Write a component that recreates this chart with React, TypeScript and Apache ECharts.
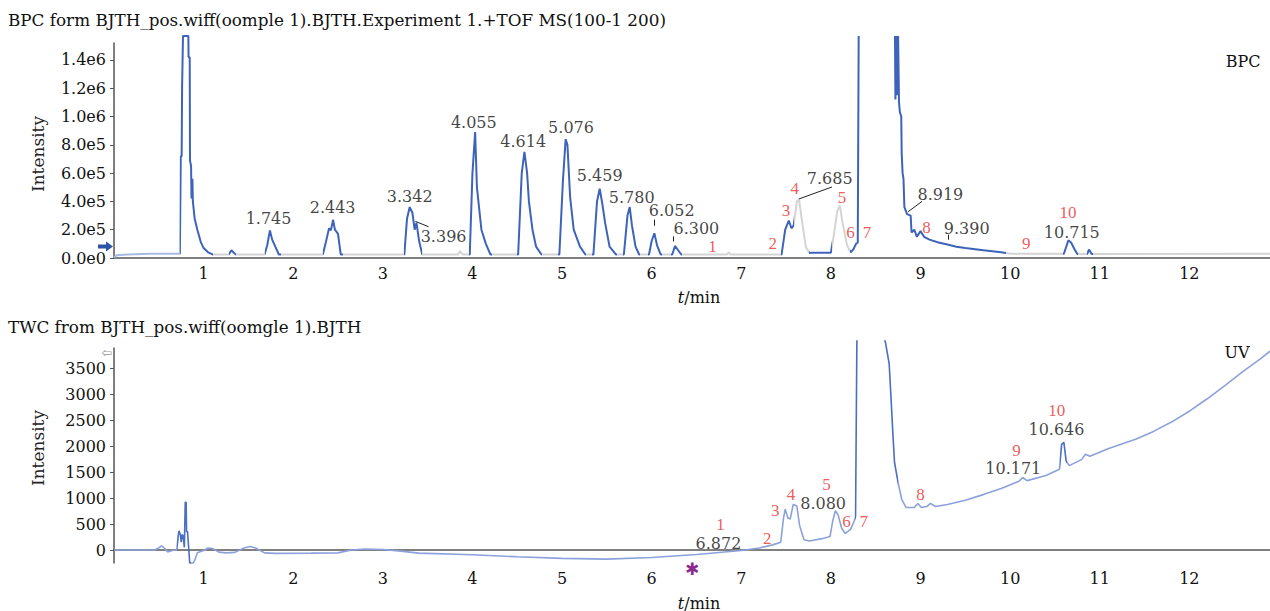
import React, { useEffect, useRef } from "react";
import * as echarts from "echarts";

// ---------- data ----------
const OFF_BPC = 1570000; // trace leaves the plot at the top
const OFF_UV = 4050;

const bpcTrace: [number, number | null][] = [
  [0, 3000], [0.03, 20000], [0.15, 25000], [0.4, 30000], [0.6, 30000], [0.735, 30000],
  [0.745, 720000], [0.755, 720000], [0.76, 1210000], [0.765, 1210000], [0.77, OFF_BPC], [0.83, OFF_BPC],
  [0.832, 1420000], [0.845, 1420000], [0.848, 690000], [0.86, 650000], [0.865, 420000], [0.875, 560000],
  [0.88, 400000], [0.9, 280000], [0.93, 200000], [0.97, 110000], [1.0, 70000], [1.05, 40000], [1.1, 25000],
  [1.28, 25000], [1.31, 55000], [1.34, 35000], [1.36, 25000],
  [1.68, 25000], [1.71, 90000], [1.74, 195000], [1.765, 130000], [1.8, 80000], [1.84, 25000],
  [2.33, 25000], [2.36, 100000], [2.4, 210000], [2.42, 195000], [2.445, 270000], [2.465, 200000], [2.5, 170000], [2.53, 25000],
  [3.24, 25000], [3.27, 280000], [3.3, 360000], [3.33, 320000], [3.355, 200000], [3.375, 250000], [3.405, 120000], [3.44, 25000],
  [3.84, 25000], [3.86, 50000], [3.89, 25000],
  [3.97, 25000], [4.0, 600000], [4.03, 890000], [4.05, 500000], [4.07, 380000], [4.1, 200000], [4.15, 100000], [4.2, 25000],
  [4.51, 25000], [4.55, 600000], [4.58, 750000], [4.61, 600000], [4.63, 400000], [4.67, 200000], [4.71, 80000], [4.77, 25000],
  [4.97, 25000], [5.01, 550000], [5.04, 840000], [5.06, 800000], [5.09, 430000], [5.13, 200000], [5.2, 80000], [5.26, 25000],
  [5.35, 25000], [5.39, 400000], [5.42, 490000], [5.45, 380000], [5.48, 250000], [5.53, 80000], [5.6, 25000],
  [5.69, 25000], [5.73, 300000], [5.755, 360000], [5.78, 230000], [5.82, 80000], [5.86, 25000],
  [5.97, 25000], [6.0, 120000], [6.03, 175000], [6.06, 90000], [6.1, 25000],
  [6.23, 25000], [6.26, 85000], [6.29, 60000], [6.33, 25000],
  [6.84, 25000], [6.86, 40000], [6.88, 25000],
  [7.45, 25000], [7.49, 200000], [7.53, 265000], [7.56, 210000], [7.585, 230000], [7.62, 400000], [7.645, 410000],
  [7.68, 250000], [7.72, 80000], [7.76, 35000], [7.8, 38000], [8.0, 38000], [8.03, 150000], [8.07, 330000],
  [8.1, 370000], [8.13, 250000], [8.18, 90000], [8.22, 40000], [8.25, 60000], [8.28, 100000], [8.3, 110000],
  [8.31, OFF_BPC], [8.5, null], [8.715, OFF_BPC], [8.72, 1120000], [8.73, OFF_BPC], [8.74, 1150000], [8.75, OFF_BPC],
  [8.76, 1100000], [8.77, 1030000], [8.785, 1000000], [8.79, 740000], [8.8, 600000], [8.81, 560000], [8.82, 360000],
  [8.85, 310000], [8.89, 300000], [8.9, 180000], [8.93, 200000], [8.96, 150000], [9.0, 190000], [9.04, 150000],
  [9.1, 130000], [9.2, 110000], [9.3, 95000], [9.4, 80000], [9.5, 70000], [9.7, 55000], [9.9, 40000], [10.0, 30000],
  [10.6, 30000], [10.65, 125000], [10.68, 110000], [10.72, 60000], [10.75, 28000],
  [10.86, 28000], [10.88, 60000], [10.91, 28000], [12.9, 30000],
];

const uvTrace: [number, number | null][] = [
  [0, 0], [0.45, 0], [0.5, 40], [0.53, 80], [0.56, 40], [0.6, -35], [0.65, -10], [0.7, 0],
  [0.715, 250], [0.725, 370], [0.74, 300], [0.75, 150], [0.76, 300], [0.77, 280], [0.785, 50],
  [0.795, 920], [0.805, 920], [0.81, 350], [0.82, 360], [0.835, 0], [0.845, -250], [0.885, -250],
  [0.9, -200], [0.93, -50], [1.0, -10], [1.05, 40], [1.1, 30], [1.17, -40], [1.25, -55], [1.35, -45],
  [1.45, 40], [1.52, 70], [1.58, 40], [1.68, -55], [1.8, -65], [2.2, -60], [2.5, -55], [2.65, 0],
  [2.8, 20], [3.0, 10], [3.2, -20], [3.4, -60], [4.0, -90], [4.5, -130], [5.0, -160], [5.5, -175],
  [6.0, -145], [6.5, -85], [7.0, -10], [7.2, 40], [7.35, 100], [7.44, 150], [7.47, 600], [7.49, 790],
  [7.52, 620], [7.545, 600], [7.58, 880], [7.62, 850], [7.65, 480], [7.7, 200], [7.76, 175], [7.9, 220],
  [7.99, 260], [8.02, 560], [8.05, 760], [8.08, 680], [8.12, 420], [8.16, 320], [8.22, 400], [8.26, 560],
  [8.275, 650], [8.29, OFF_UV], [8.45, null], [8.6, OFF_UV], [8.61, 4000], [8.65, 3600], [8.67, 2970],
  [8.69, 2300], [8.71, 1690], [8.75, 1300], [8.79, 980], [8.84, 820], [8.93, 820], [8.97, 900], [9.01, 820],
  [9.07, 840], [9.11, 900], [9.17, 840], [9.3, 880], [9.5, 960], [9.7, 1070], [9.9, 1190], [10.1, 1330],
  [10.14, 1400], [10.19, 1340], [10.4, 1440], [10.55, 1560], [10.575, 2040], [10.6, 2080], [10.625, 1720],
  [10.66, 1630], [10.8, 1750], [10.84, 1850], [10.89, 1810], [11.1, 1960], [11.4, 2140], [11.6, 2290],
  [11.8, 2470], [12.0, 2680], [12.2, 2920], [12.4, 3180], [12.6, 3450], [12.8, 3700], [12.9, 3840],
];

// retention-time labels [time, intensity, text]
const bpcRtLabels: [number, number, string][] = [
  [1.725, 278000, "1.745"], [2.44, 355000, "2.443"], [3.3, 433000, "3.342"], [3.678, 153000, "3.396"],
  [4.015, 958000, "4.055"], [4.566, 824000, "4.614"], [5.1, 926000, "5.076"], [5.42, 582000, "5.459"],
  [5.777, 431000, "5.780"], [6.223, 333000, "6.052"], [6.499, 207000, "6.300"], [7.987, 565000, "7.685"],
  [9.222, 452000, "8.919"], [9.516, 212000, "9.390"], [10.688, 180000, "10.715"],
];
const bpcPeakNumbers: [number, number, string][] = [
  [6.68, 84000, "1"], [7.35, 101000, "2"], [7.5, 334000, "3"], [7.596, 488000, "4"], [8.124, 431000, "5"],
  [8.218, 177000, "6"], [8.403, 177000, "7"], [9.066, 216000, "8"], [10.18, 99000, "9"], [10.646, 322000, "10"],
];
const bpcLeaders: [number, number, number, number][] = [
  [3.363, 259000, 3.511, 221000], [7.641, 417000, 8.012, 502000], [8.861, 327000, 9.017, 400000],
  [6.026, 228000, 6.026, 271000], [6.245, 117000, 6.245, 153000], [9.307, 129000, 9.307, 165000],
];
const uvRtLabels: [number, number, string][] = [
  [6.745, 125, "6.872"], [7.913, 900, "8.080"], [10.035, 1570, "10.171"], [10.517, 2330, "10.646"],
];
const uvPeakNumbers: [number, number, string][] = [
  [6.768, 490, "1"], [7.29, 220, "2"], [7.38, 766, "3"], [7.555, 1075, "4"], [7.95, 1260, "5"],
  [8.175, 560, "6"], [8.366, 560, "7"], [9.0, 1075, "8"], [10.07, 1930, "9"], [10.52, 2700, "10"],
];

const xTickValues = [1, 2, 3, 4, 5, 6, 7, 8, 9, 10, 11, 12];
const bpcYTicks = [0, 200000, 400000, 600000, 800000, 1000000, 1200000, 1400000];
const uvYTicks = [0, 500, 1000, 1500, 2000, 2500, 3000, 3500];

// time ranges where the BPC trace is drawn dark blue
const bpcBlueRanges: [number, number][] = [
  [0.74, 1.1], [1.28, 1.36], [1.68, 1.86], [2.33, 2.55], [3.24, 3.44], [3.96, 4.22], [4.5, 4.78],
  [4.96, 5.27], [5.34, 5.61], [5.68, 5.87], [5.96, 6.11], [6.22, 6.34], [7.44, 7.585], [7.76, 8.01],
  [8.21, 9.95], [10.59, 10.76], [10.86, 10.92],
];
const uvDarkRanges: [number, number][] = [[0.7, 0.86], [8.27, 8.75], [10.56, 10.64]];

const titleTop = "BPC form BJTH_pos.wiff(oomple 1).BJTH.Experiment 1.+TOF MS(100-1 200)";
const titleBottom = "TWC from BJTH_pos.wiff(oomgle 1).BJTH";

// ---------- styling ----------
const SERIF = '"DejaVu Serif", "Liberation Serif", serif';
const RED_FONT = '"Liberation Serif", "DejaVu Serif", serif';
const BLUE = "#3d63ba";
const LIGHT_BLUE = "#a9bbe4";
const GRAY = "#d4d4d4";
const UV_BLUE = "#8ba1db";
const UV_DARK = "#4a6ec2";
const RED = "#e8312e";
const INK = "#111";

const sci = (v: number) => {
  if (v === 0) return "0.0e0";
  const e = Math.floor(Math.log10(v) + 1e-9);
  return (v / Math.pow(10, e)).toFixed(1) + "e" + e;
};

const toData = (arr: [number, number | null][]) => arr.map(([t, v]) => [t, v === null ? "-" : v]);

function labelSeries(xi: number, list: [number, number, string][], color: string, font: string, size: number, leaders?: [number, number, number, number][]) {
  return {
    type: "scatter",
    xAxisIndex: xi,
    yAxisIndex: xi,
    symbolSize: 1,
    itemStyle: { color: "rgba(0,0,0,0)" },
    silent: true,
    z: 5,
    data: list.map(([t, v, s]) => [t, v, s]),
    label: {
      show: true,
      position: "inside",
      formatter: (p: any) => p.data[2],
      color,
      fontFamily: font,
      fontSize: size,
    },
    markLine: leaders
      ? {
          silent: true,
          symbol: ["none", "none"],
          label: { show: false },
          lineStyle: { color: "#222", width: 1, type: "solid" },
          data: leaders.map(([a, b, c, d]) => [{ coord: [a, b] }, { coord: [c, d] }]),
        }
      : undefined,
  };
}

function piecesFrom(ranges: [number, number][], color: string, extra: any[] = []) {
  const ps = [...extra, ...ranges.map(([a, b]) => ({ gte: a, lt: b, color }))];
  return ps.sort((p, q) => p.gte - q.gte);
}

export default function App() {
  const ref = useRef<HTMLDivElement>(null);
  useEffect(() => {
    if (!ref.current) return;
    const chart = echarts.init(ref.current, undefined, { renderer: "svg" });
    const xAxisBase = (gi: number) => ({
      type: "value",
      gridIndex: gi,
      min: 0,
      max: 12.9,
      interval: 1,
      axisLine: { show: true, lineStyle: { color: "#555", width: 1.5 } },
      axisTick: { show: false },
      splitLine: { show: false },
      axisLabel: {
        customValues: xTickValues,
        color: INK,
        fontFamily: SERIF,
        fontSize: 16,
        margin: 7,
      },
    });
    const yLabel = { color: INK, fontFamily: SERIF, fontSize: 16, margin: 8 };
    chart.setOption({
      animation: false,
      grid: [
        { left: 114, top: 43, right: 0, height: 215 },
        { left: 114, top: 348, right: 0, height: 215 },
      ],
      xAxis: [xAxisBase(0), xAxisBase(1)],
      yAxis: [
        {
          type: "value",
          gridIndex: 0,
          min: 0,
          max: 1520000,
          interval: 200000,
          axisLine: { show: true, lineStyle: { color: "#555", width: 1.5 } },
          axisTick: { show: true, length: 4, customValues: bpcYTicks, lineStyle: { color: "#555" } },
          splitLine: { show: false },
          axisLabel: { ...yLabel, customValues: bpcYTicks, formatter: (v: number) => sci(v) },
        },
        {
          type: "value",
          gridIndex: 1,
          min: -250,
          max: 3900,
          axisLine: { show: true, lineStyle: { color: "#555", width: 1.5 } },
          axisTick: { show: true, length: 4, customValues: uvYTicks, lineStyle: { color: "#555" } },
          splitLine: { show: false },
          axisLabel: { ...yLabel, customValues: uvYTicks, formatter: (v: number) => String(v) },
        },
      ],
      visualMap: [
        {
          type: "piecewise",
          show: false,
          seriesIndex: 0,
          dimension: 0,
          pieces: piecesFrom(bpcBlueRanges, BLUE, [{ gte: 0, lt: 0.74, color: LIGHT_BLUE }]),
          outOfRange: { color: GRAY },
        },
        {
          type: "piecewise",
          show: false,
          seriesIndex: 1,
          dimension: 0,
          pieces: piecesFrom(uvDarkRanges, UV_DARK),
          outOfRange: { color: UV_BLUE },
        },
      ],
      series: [
        {
          type: "line",
          xAxisIndex: 0,
          yAxisIndex: 0,
          data: toData(bpcTrace),
          showSymbol: false,
          clip: false,
          connectNulls: false,
          lineStyle: { width: 2 },
          silent: true,
        },
        {
          type: "line",
          xAxisIndex: 1,
          yAxisIndex: 1,
          data: toData(uvTrace),
          showSymbol: false,
          clip: false,
          connectNulls: false,
          lineStyle: { width: 1.6 },
          silent: true,
        },
        labelSeries(0, bpcRtLabels, INK, SERIF, 16, bpcLeaders),
        labelSeries(0, bpcPeakNumbers, RED, RED_FONT, 17),
        labelSeries(1, uvRtLabels, INK, SERIF, 16),
        labelSeries(1, uvPeakNumbers, RED, RED_FONT, 17),
      ],
      graphic: [
        { type: "text", x: 8, y: 20, style: { text: titleTop, fontFamily: SERIF, fontSize: 16.8, fill: INK, verticalAlign: "middle" } },
        { type: "text", x: 8, y: 327, style: { text: titleBottom, fontFamily: SERIF, fontSize: 16.8, fill: INK, verticalAlign: "middle" } },
        { type: "text", x: 1243, y: 61, style: { text: "BPC", fontFamily: SERIF, fontSize: 16, fill: INK, align: "center", verticalAlign: "middle" } },
        { type: "text", x: 1237, y: 352, style: { text: "UV", fontFamily: SERIF, fontSize: 16, fill: INK, align: "center", verticalAlign: "middle" } },
        { type: "text", x: 38, y: 154, rotation: Math.PI / 2, style: { text: "Intensity", fontFamily: SERIF, fontSize: 17, fill: "#222", align: "center", verticalAlign: "middle" } },
        { type: "text", x: 38, y: 448, rotation: Math.PI / 2, style: { text: "Intensity", fontFamily: SERIF, fontSize: 17, fill: "#222", align: "center", verticalAlign: "middle" } },
        {
          type: "text", x: 699, y: 297,
          style: { text: "{i|t}/min", fontFamily: SERIF, fontSize: 16, fill: INK, align: "center", verticalAlign: "middle", rich: { i: { fontStyle: "italic", fontFamily: SERIF, fontSize: 16 } } },
        },
        {
          type: "text", x: 699, y: 603,
          style: { text: "{i|t}/min", fontFamily: SERIF, fontSize: 16, fill: INK, align: "center", verticalAlign: "middle", rich: { i: { fontStyle: "italic", fontFamily: SERIF, fontSize: 16 } } },
        },
        {
          type: "polygon",
          shape: { points: [[98, 244.5], [106, 244.5], [106, 241.5], [113, 246.5], [106, 251.5], [106, 248.5], [98, 248.5]] },
          style: { fill: "#2c55a8" },
        },
        { type: "text", x: 107, y: 352, style: { text: "⇦", fontFamily: '"DejaVu Sans"', fontSize: 13, fill: "#9a9a9a", align: "center", verticalAlign: "middle" } },
        { type: "text", x: 692, y: 569, style: { text: "✱", fontFamily: '"DejaVu Sans"', fontSize: 17, fill: "#8e2a8e", align: "center", verticalAlign: "middle" } },
      ],
    });
    return () => chart.dispose();
  }, []);
  return <div ref={ref} style={{ position: "absolute", left: 0, top: 0, width: 1270, height: 611 }} />;
}
